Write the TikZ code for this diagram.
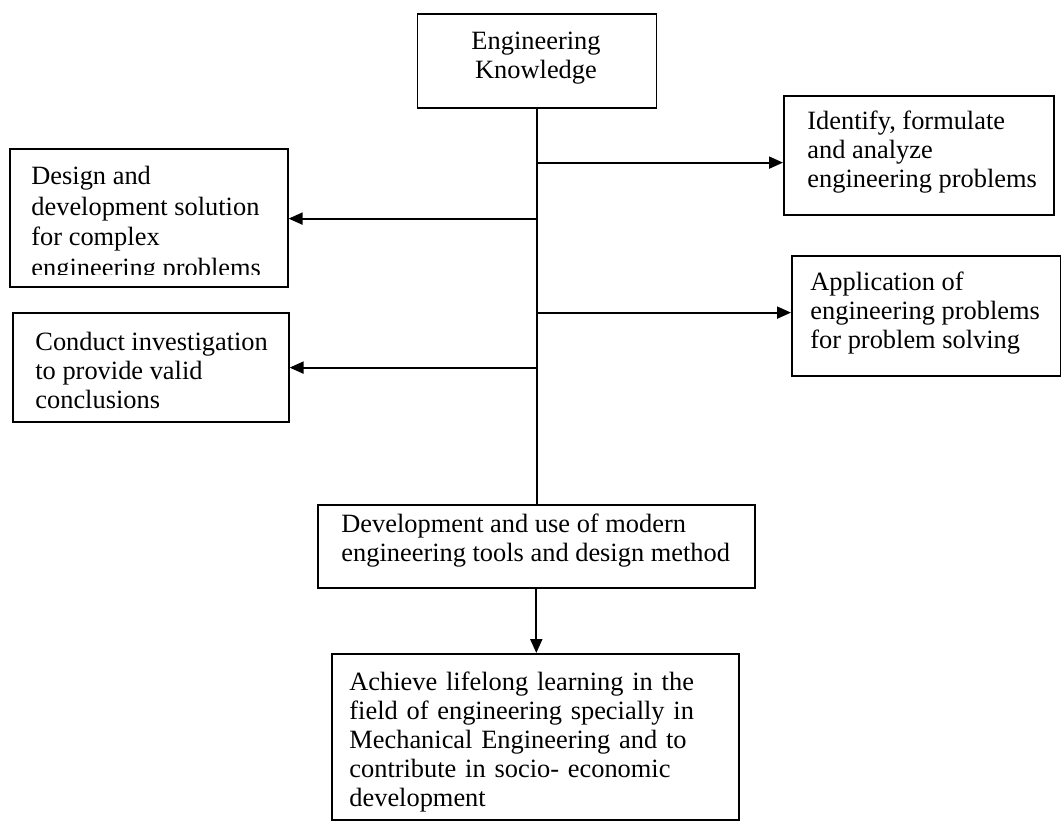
\documentclass[tikz,border=0pt]{standalone}
\usepackage{fontspec}
\setmainfont{Liberation Serif}
\usetikzlibrary{arrows.meta}
\begin{document}
\begin{tikzpicture}[x=0.5pt,y=-0.5pt,
  box/.style={draw, line width=0.8pt, inner sep=0pt, anchor=north west},
  txt/.style={inner sep=0pt, anchor=north west, align=left, font=\fontsize{13.2}{14.5}\selectfont},
  arr/.style={line width=1pt, -{Triangle[length=7pt,width=6pt]}},
  trunk/.style={line width=1pt}]
\useasboundingbox (0,0) rectangle (1061,821);
% boxes
\node[box, minimum width=119.5pt, minimum height=47pt]   (EK) at (416.5,13) {};
\node[box, minimum width=135pt,   minimum height=59.5pt] (ID) at (783,95) {};
\node[box, minimum width=139pt,   minimum height=69pt]   (DS) at (9,148) {};
\node[box, minimum width=134.5pt, minimum height=60pt]   (AP) at (791,255) {};
\node[box, minimum width=138pt,   minimum height=54.5pt] (CI) at (12,312) {};
\node[box, minimum width=218.5pt, minimum height=41.5pt] (DV) at (317,504) {};
\node[box, minimum width=203.5pt, minimum height=83pt]   (AC) at (331,653) {};
% texts
\node[txt, anchor=north, align=center] (tEK) at (536,28.7) {\strut Engineering\\Knowledge};
\node[txt] (tID) at (807,108.7) {\strut Identify, formulate\\and analyze\\engineering problems};
\begin{scope}
  \clip (0,150) rectangle (300,274);
  \node[txt, font=\fontsize{13.2}{15.2}\selectfont] (tDS) at (31,163.2) {\strut Design and\\development solution\\for complex\\engineering problems};
\end{scope}
\node[txt] (tAP) at (810,269.7) {\strut Application of\\engineering problems\\for problem solving};
\node[txt] (tCI) at (35,329.7) {\strut Conduct investigation\\to provide valid\\conclusions};
\node[txt] (tDV) at (341,511.7) {\strut Development and use of modern\\engineering tools and design method};
\node[txt, text width=189.5pt] (tAC) at (349,669.7) {\strut\makebox[189.5pt][s]{Achieve lifelong learning in the}\\
\makebox[189.5pt][s]{field of engineering specially in}\\
\makebox[189.5pt][s]{Mechanical Engineering and to}\\
\makebox[189.5pt][s]{contribute in socio- economic}\\
development};
% trunk and junctions
\draw[trunk] (EK.south) -- (EK.south |- DV.north);
\path (EK.south) ++(0,54) coordinate (j1);
\path (EK.south) ++(0,110) coordinate (j2);
\path (EK.south) ++(0,204) coordinate (j3);
\path (EK.south) ++(0,259) coordinate (j4);
\draw[arr] (j1) -- (j1 -| ID.west);
\draw[arr] (j2) -- (j2 -| DS.east);
\draw[arr] (j3) -- (j3 -| AP.west);
\draw[arr] (j4) -- (j4 -| CI.east);
\draw[arr] (DV.south) -- (DV.south |- AC.north);
\end{tikzpicture}
\end{document}
